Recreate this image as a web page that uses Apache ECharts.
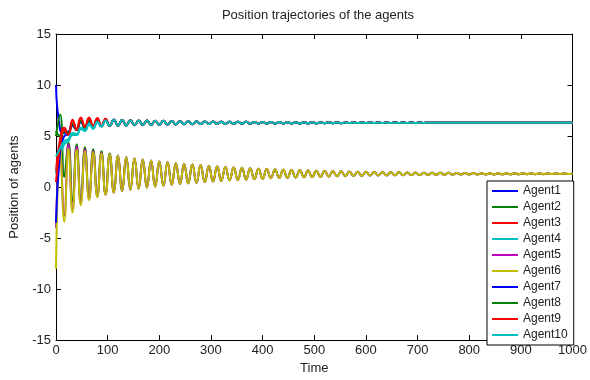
<!DOCTYPE html>
<html><head><meta charset="utf-8">
<script src="https://cdn.jsdelivr.net/npm/echarts@6/dist/echarts.min.js"></script>
<style>html,body{margin:0;padding:0;background:#fff}#c{width:590px;height:380px}</style>
</head><body><div id="c"></div>
<script>
// sample times (half-period steps)
const times = [0,8,16,24,32,40,48,56,64,72,80,88,96,104,112,120,128,136,144,152,160,168,176,184,192,200,208,216,224,232,240,248,256,264,272,280,288,296,304,312,320,328,336,344,352,360,368,376,384,392,400,408,416,424,432,440,448,456,464,472,480,488,496,504,512,520,528,536,544,552,560,568,576,584,592,600,608,616,624,632,640,648,656,664,672,680,688,696,704,712,720,728,736,744,752,760,768,776,784,792,800,808,816,824,832,840,848,856,864,872,880,888,896,904,912,920,928,936,944,952,960,968,976,984,992,1000];

// early transients (t = 0 .. 120)
const agent1Start  = [10.0, 5.6, 5.3, 5.4, 6.0, 5.6, 6.4, 5.8, 6.5, 5.9, 6.6, 5.95, 6.6, 6.0, 6.6, 6.02];
const agent2Start  = [5.0, 7.1, 1.0, 4.4, -1.4, 4.2, -1.2, 3.9, -1.0, 3.7, -0.85, 3.5, -0.7, 3.3, -0.5, 3.1];
const agent3Start  = [1.5, 4.8, 5.8, 5.2, 6.6, 5.7, 6.8, 5.9, 6.8, 5.95, 6.75, 6.0, 6.7, 6.0, 6.6, 6.02];
const agent4Start  = [1.3, 3.0, 4.2, 4.5, 5.1, 5.1, 5.7, 5.5, 6.1, 5.7, 6.35, 5.9, 6.5, 6.0, 6.6, 6.02];
const agent5Start  = [-4.0, 3.6, -2.8, 4.2, -2.2, 3.95, -1.6, 3.7, -1.2, 3.5, -0.95, 3.35, -0.75, 3.2, -0.55, 3.05];
const agent6Start  = [-8.0, 3.9, -3.4, 3.8, -2.5, 3.65, -1.8, 3.5, -1.3, 3.4, -1.0, 3.3, -0.75, 3.2, -0.55, 3.05];
const agent7Start  = [-3.5, 3.5, 5.0, 5.2, 6.2, 5.6, 6.5, 5.8, 6.6, 5.9, 6.6, 5.95, 6.6, 6.0, 6.6, 6.02];
const agent8Start  = [5.5, 5.0, 5.4, 5.3, 6.2, 5.6, 6.5, 5.8, 6.6, 5.9, 6.6, 5.95, 6.6, 6.0, 6.6, 6.02];
const agent9Start  = [0.5, 4.0, 5.6, 5.1, 6.5, 5.6, 6.8, 5.9, 6.8, 5.95, 6.75, 6.0, 6.7, 6.0, 6.6, 6.02];
const agent10Start = [3.0, 3.8, 4.5, 4.7, 5.3, 5.2, 5.8, 5.6, 6.2, 5.8, 6.4, 5.95, 6.55, 6.0, 6.6, 6.02];

// shared tails (t = 128 .. 1000)
const upperTail = [6.57,6.04,6.55,6.06,6.53,6.07,6.52,6.09,6.50,6.11,6.49,6.12,6.47,6.13,6.46,6.15,6.45,6.16,6.44,6.17,6.43,6.18,6.42,6.19,6.41,6.19,6.40,6.20,6.40,6.21,6.39,6.21,6.38,6.22,6.38,6.23,6.37,6.23,6.37,6.24,6.36,6.24,6.36,6.24,6.35,
 6.25,6.35,6.25,6.34,6.26,6.34,6.26,6.34,6.26,6.33,6.27,6.33,6.27,6.33,6.27,6.33,6.27,
 6.32,6.28,6.32,6.28,6.32,6.28,6.32,6.28,6.32,6.28,6.32,6.28,
 6.31,6.29,6.31,6.29,6.31,6.29,6.31,6.29,6.31,6.29,6.31,6.29,6.31,6.29,6.31,6.29,
 6.30,6.30,6.30,6.30,6.30,6.30,6.30,6.30,6.30,6.30,6.30,6.30,6.30,6.30,6.30,6.30,6.30,6.30,6.30,6.30];
const lowerTail = [-0.38,2.92,-0.26,2.80,-0.15,2.70,-0.05,2.60,0.05,2.51,0.14,2.42,0.22,2.34,0.30,2.27,0.37,2.20,0.43,2.13,0.50,2.07,0.55,2.02,0.61,1.97,0.66,1.92,0.70,1.88,0.74,1.84,0.78,1.80,0.82,1.76,0.86,1.73,0.89,1.70,0.92,1.67,0.94,1.64,0.97,1.62,0.99,1.60,1.01,1.58,1.03,1.56,1.05,1.54,1.07,1.52,1.09,1.50,1.10,1.49,1.12,1.48,1.13,1.46,1.14,1.45,1.15,1.44,1.16,1.43,1.17,1.42,1.18,1.41,1.19,1.40,1.20,1.40,1.21,1.39,1.21,1.38,1.22,1.38,1.23,1.37,1.23,1.36,1.24,1.36,1.24,1.35,1.25,1.35,1.25,1.35,1.26,1.34,1.26,1.34,1.26,1.34,1.26,1.34,1.27,1.33,1.27,1.33,1.27,1.33];

const agentNames = ['Agent1','Agent2','Agent3','Agent4','Agent5','Agent6','Agent7','Agent8','Agent9','Agent10'];
const agentColors = ['#0000ff','#008000','#ff0000','#00bfbf','#bf00bf','#bfbf00','#0000ff','#008000','#ff0000','#00bfbf'];
const agentStarts = [agent1Start,agent2Start,agent3Start,agent4Start,agent5Start,agent6Start,agent7Start,agent8Start,agent9Start,agent10Start];
const agentTails  = [upperTail,lowerTail,upperTail,upperTail,lowerTail,lowerTail,upperTail,upperTail,upperTail,upperTail];

const xTicks = {min:0, max:1000, interval:100};
const yTicks = {min:-15, max:15, interval:5};

const series = agentNames.map((name,i)=>{
  const vals = agentStarts[i].concat(agentTails[i]);
  return {
    name, type:'line', showSymbol:false, symbol:'none', smooth:0.5,
    color: agentColors[i],
    lineStyle:{width:2, color:agentColors[i]},
    data: times.map((t,k)=>[t, vals[k]]),
    animation:false
  };
});

const chart = echarts.init(document.getElementById('c'), null, {renderer:'canvas'});
const fontFam = 'Liberation Sans, Arial, sans-serif';
const plain = v => String(v);
chart.setOption({
  animation:false,
  backgroundColor:'#fff',
  title:{text:'Position trajectories of the agents', left:313, top:4, textAlign:'center',
    textStyle:{fontSize:13, fontWeight:'normal', color:'#222', fontFamily:fontFam}},
  grid:{left:56, right:17, top:34, bottom:32},
  legend:{orient:'vertical', left:487, top:181, data:agentNames,
    icon:'rect', itemWidth:26, itemHeight:2, itemGap:2,
    padding:[3,6,3,5], borderColor:'#000', borderWidth:1, backgroundColor:'#fff',
    textStyle:{fontSize:12, color:'#222', lineHeight:14, fontFamily:fontFam}},
  xAxis:[{type:'value', ...xTicks, position:'bottom',
      name:'Time', nameLocation:'middle', nameGap:18,
      nameTextStyle:{fontSize:13, color:'#222', fontFamily:fontFam},
      axisLine:{onZero:false, lineStyle:{color:'#000', width:1}},
      axisTick:{inside:true, length:5, lineStyle:{color:'#000'}},
      axisLabel:{fontSize:13, color:'#222', margin:4, fontFamily:fontFam, formatter:plain},
      splitLine:{show:false}},
    {type:'value', ...xTicks, position:'top',
      axisLine:{onZero:false, lineStyle:{color:'#000', width:1}},
      axisTick:{inside:true, length:5, lineStyle:{color:'#000'}},
      axisLabel:{show:false}, splitLine:{show:false}}],
  yAxis:[{type:'value', ...yTicks, position:'left',
      name:'Position of agents', nameLocation:'middle', nameGap:24,
      nameTextStyle:{fontSize:13, color:'#222', fontFamily:fontFam},
      axisLine:{onZero:false, lineStyle:{color:'#000', width:1}},
      axisTick:{inside:true, length:5, lineStyle:{color:'#000'}},
      axisLabel:{fontSize:13, color:'#222', margin:5, fontFamily:fontFam, formatter:plain},
      splitLine:{show:false}},
    {type:'value', ...yTicks, position:'right',
      axisLine:{onZero:false, lineStyle:{color:'#000', width:1}},
      axisTick:{inside:true, length:5, lineStyle:{color:'#000'}},
      axisLabel:{show:false}, splitLine:{show:false}}],
  series
});
</script></body></html>
